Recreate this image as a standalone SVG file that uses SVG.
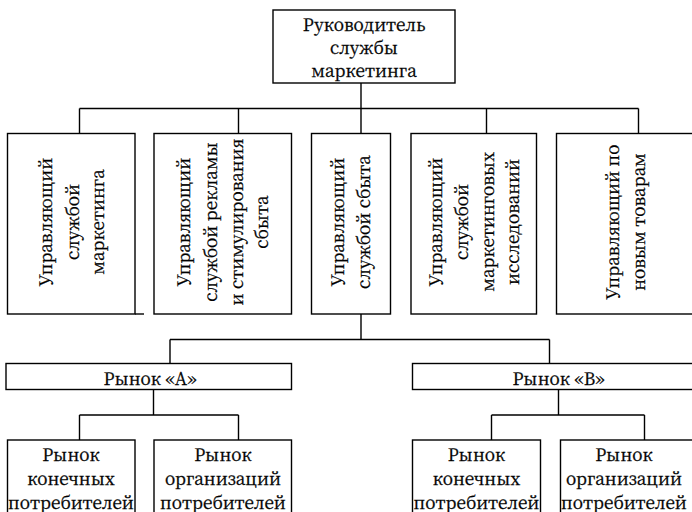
<svg xmlns="http://www.w3.org/2000/svg" width="692" height="512" viewBox="0 0 692 512">
<style>
.box{fill:#fff;stroke:#000;stroke-width:1.4}
.ln{stroke:#000;stroke-width:1.4;fill:none}
.t text{font-size:17.2px;fill:#000;stroke:#000;stroke-width:0.3;text-anchor:middle}
</style>
<rect width="692" height="512" fill="#fff"/>
<g id="connectors" class="ln">
<path d="M361 83V108.5M79.5 108.5H638.5M79.5 108.5V133.5M238.5 108.5V133.5M361 108.5V133.5M486.5 108.5V133.5M638.5 108.5V133.5"/>
<path d="M361 314V339.5M170 339.5H549.5M170 339.5V363.5M549.5 339.5V363.5"/>
<path d="M153.5 389.5V415M79.5 415H238.5M79.5 415V440M238.5 415V440"/>
<path d="M558.5 389.5V415M491.5 415H644.5M491.5 415V440M644.5 415V440"/>
<path d="M135 314H144"/>
</g>
<g class="t" font-family="'Noto Serif CJK SC', 'Noto Serif CJK JP', 'Noto Serif', 'DejaVu Serif', serif">
<g id="head">
<rect class="box" x="273" y="10" width="182" height="73"/>
<text x="364" y="31">Руководитель</text>
<text x="364" y="54">службы</text>
<text x="364" y="77">маркетинга</text>
</g>
<g id="mgr1">
<rect class="box" x="7.5" y="133.5" width="127.5" height="180.5"/>
<g transform="translate(0,222) rotate(-90)">
<text x="0" y="52">Управляющий</text>
<text x="0" y="79">службой</text>
<text x="0" y="104">маркетинга</text>
</g>
</g>
<g id="mgr2">
<rect class="box" x="154" y="133.5" width="137.5" height="180.5"/>
<g transform="translate(0,222) rotate(-90)">
<text x="0" y="190">Управляющий</text>
<text x="0" y="216.5">службой рекламы</text>
<text x="0" y="243">и стимулирования</text>
<text x="0" y="268">сбыта</text>
</g>
</g>
<g id="mgr3">
<rect class="box" x="311.5" y="133.5" width="79" height="180.5"/>
<g transform="translate(0,222) rotate(-90)">
<text x="0" y="343.5">Управляющий</text>
<text x="0" y="370">службой сбыта</text>
</g>
</g>
<g id="mgr4">
<rect class="box" x="411" y="133.5" width="125.5" height="180.5"/>
<g transform="translate(0,222) rotate(-90)">
<text x="0" y="442">Управляющий</text>
<text x="0" y="468">службой</text>
<text x="0" y="493.5">маркетинговых</text>
<text x="0" y="518.5">исследований</text>
</g>
</g>
<g id="mgr5">
<rect class="box" x="556.5" y="133.5" width="150" height="180.5"/>
<g transform="translate(0,222) rotate(-90)">
<text x="0" y="618.5">Управляющий по</text>
<text x="0" y="645">новым товарам</text>
</g>
</g>
<g id="marketA">
<rect class="box" x="6" y="363.5" width="285.5" height="26"/>
<text x="150" y="385">Рынок «А»</text>
</g>
<g id="marketB">
<rect class="box" x="412.5" y="363.5" width="300" height="26"/>
<text x="558.5" y="385">Рынок «В»</text>
</g>
<g id="a1">
<rect class="box" x="7.5" y="440" width="127.5" height="90"/>
<text x="71" y="461">Рынок</text>
<text x="71" y="485">конечных</text>
<text x="71" y="509">потребителей</text>
</g>
<g id="a2">
<rect class="box" x="154" y="440" width="137.5" height="90"/>
<text x="223" y="461">Рынок</text>
<text x="223" y="485">организаций</text>
<text x="223" y="509">потребителей</text>
</g>
<g id="b1">
<rect class="box" x="412.5" y="440" width="128" height="90"/>
<text x="476.5" y="461">Рынок</text>
<text x="476.5" y="485">конечных</text>
<text x="476.5" y="509">потребителей</text>
</g>
<g id="b2">
<rect class="box" x="560.5" y="440" width="150" height="90"/>
<text x="624" y="461">Рынок</text>
<text x="624" y="485">организаций</text>
<text x="624" y="509">потребителей</text>
</g>
</g>
</svg>
